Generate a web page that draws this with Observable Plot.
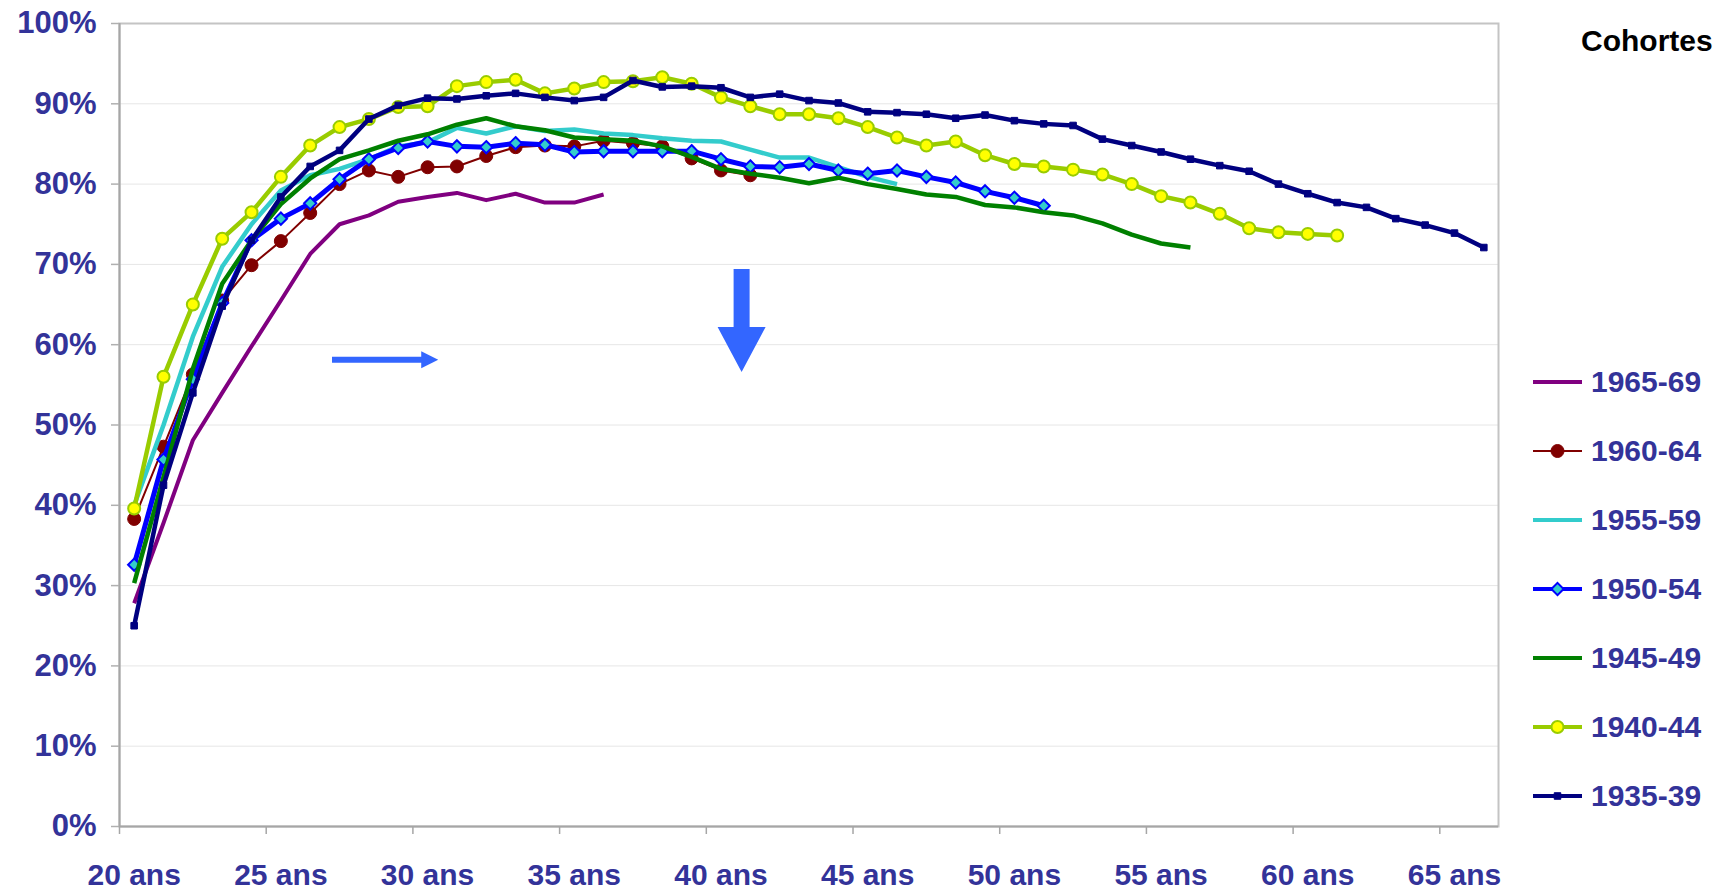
<!DOCTYPE html>
<html>
<head>
<meta charset="utf-8">
<script src="https://cdn.jsdelivr.net/npm/d3@7"></script>
<script src="https://cdn.jsdelivr.net/npm/@observablehq/plot@0.6"></script>
<style>
  html, body { margin: 0; padding: 0; background: #fff; overflow: hidden; }
  #wrap { position: relative; width: 1726px; height: 891px; font-family: "Liberation Sans", Arial, sans-serif; font-weight: bold; }
  #legend { position: absolute; left: 0; top: 0; width: 1726px; height: 891px; pointer-events: none; }
  .ltitle { position: absolute; color: #000; font-size: 30px; white-space: nowrap; }
  .litem { position: absolute; color: #333399; font-size: 30px; white-space: nowrap; display: flex; align-items: center; }
  .litem svg { margin-right: 9px; }
</style>
</head>
<body>
<div id="wrap"><div id="chart"></div><div id="legend"></div></div>
<script>
// ---------- DATA ----------
const cohorts = ["1965-69", "1960-64", "1955-59", "1950-54", "1945-49", "1940-44", "1935-39"];
const firstAge = 20; // first category: "20 ans"

const v1965_69 = [27.8, 37.8, 48.1, 54.0, 59.8, 65.5, 71.3, 75.0, 76.1, 77.8, 78.4, 78.9, 78.0, 78.8, 77.7, 77.7, 78.7];
const v1960_64 = [38.3, 47.3, 56.3, 65.5, 69.9, 72.9, 76.4, 80.0, 81.7, 80.9, 82.1, 82.2, 83.5, 84.6, 84.8, 84.7, 85.4, 85.1, 84.7, 83.2, 81.7, 81.1];
const v1955_59 = [40.0, 50.0, 61.0, 69.7, 75.0, 79.2, 81.1, 81.9, 83.1, 84.7, 85.2, 87.0, 86.3, 87.2, 86.6, 86.8, 86.3, 86.1, 85.7, 85.4, 85.3, 84.3, 83.3, 83.3, 82.1, 80.9, 80.0];
const v1950_54 = [32.6, 45.7, 55.7, 65.2, 73.0, 75.7, 77.6, 80.6, 83.1, 84.5, 85.3, 84.7, 84.6, 85.1, 84.9, 84.0, 84.1, 84.1, 84.1, 84.1, 83.1, 82.2, 82.1, 82.5, 81.7, 81.3, 81.7, 80.9, 80.2, 79.1, 78.3, 77.3];
const v1945_49 = [30.3, 43.5, 57.0, 67.6, 73.0, 77.5, 80.7, 83.1, 84.2, 85.4, 86.2, 87.4, 88.2, 87.2, 86.7, 85.8, 85.6, 85.4, 84.7, 83.4, 81.9, 81.3, 80.8, 80.1, 80.8, 80.0, 79.4, 78.7, 78.4, 77.4, 77.1, 76.5, 76.1, 75.1, 73.7, 72.6, 72.1];
const v1940_44 = [39.6, 56.0, 65.0, 73.2, 76.5, 80.9, 84.8, 87.1, 88.1, 89.6, 89.7, 92.2, 92.7, 93.0, 91.3, 91.9, 92.7, 92.8, 93.3, 92.5, 90.8, 89.7, 88.7, 88.7, 88.2, 87.1, 85.8, 84.8, 85.3, 83.6, 82.5, 82.2, 81.8, 81.2, 80.0, 78.5, 77.7, 76.3, 74.5, 74.0, 73.8, 73.6];
const v1935_39 = [25.0, 42.5, 54.0, 64.8, 73.0, 78.4, 82.2, 84.2, 88.1, 89.8, 90.7, 90.6, 91.0, 91.3, 90.8, 90.4, 90.8, 92.9, 92.1, 92.2, 92.0, 90.8, 91.2, 90.4, 90.1, 89.0, 88.9, 88.7, 88.2, 88.6, 87.9, 87.5, 87.3, 85.6, 84.8, 84.0, 83.1, 82.3, 81.6, 80.0, 78.8, 77.7, 77.1, 75.7, 74.9, 73.9, 72.1];

const seriesValues = [v1965_69, v1960_64, v1955_59, v1950_54, v1945_49, v1940_44, v1935_39];

const yTicks = [0, 10, 20, 30, 40, 50, 60, 70, 80, 90, 100];
const xTickAges = [20, 25, 30, 35, 40, 45, 50, 55, 60, 65];
const xTickLabels = ["20 ans", "25 ans", "30 ans", "35 ans", "40 ans", "45 ans", "50 ans", "55 ans", "60 ans", "65 ans"];
const xDomain = [20, 67];

// annotation arrows (data units: age, %)
const arrowFrom = [[27.26, 58.07], [41.22, 69.37]];
const arrowTo = [[30.88, 58.07], [41.22, 56.54]];

// ---------- STYLES ----------
const styles = [
  {stroke: "#800080", width: 4},
  {stroke: "#800000", width: 2, symbol: "circle", r: 6.5, fill: "#800000", mstroke: "#800000", msw: 1},
  {stroke: "#33CCCC", width: 4.5},
  {stroke: "#0000FF", width: 5, symbol: "diamond2", r: 5.5, fill: "#33CCCC", mstroke: "#0000FF", msw: 2},
  {stroke: "#008000", width: 4.5},
  {stroke: "#99CC00", width: 4.5, symbol: "circle", r: 6, fill: "#FFFF00", mstroke: "#99CC00", msw: 2},
  {stroke: "#000080", width: 4.5, symbol: "square", r: 3.7, fill: "#000080", mstroke: "#000080", msw: 1}
];
const arrowStyle = [{shaft: 6, headLen: 17, headW: 17}, {shaft: 16, headLen: 45, headW: 48}];
const arrowColor = "#3366FF";
const labelColor = "#333399";

// ---------- BUILD ----------
const rows = cohorts.map((c, k) => seriesValues[k].map((v, i) => ({cohort: c, age: firstAge + i + 0.5, value: v})));

const seriesMarks = [];
rows.forEach((data, k) => {
  const s = styles[k];
  seriesMarks.push(Plot.line(data, {x: "age", y: "value", stroke: s.stroke, strokeWidth: s.width, strokeLinejoin: "round", strokeLinecap: "butt"}));
  if (s.symbol) {
    seriesMarks.push(Plot.dot(data, {x: "age", y: "value", symbol: s.symbol, r: s.r, fill: s.fill, stroke: s.mstroke, strokeWidth: s.msw}));
  }
});

function arrowsMark(index, scales) {
  const g = d3.create("svg:g");
  arrowFrom.forEach((f, i) => {
    const st = arrowStyle[i];
    const x1 = scales.x(f[0]), y1 = scales.y(f[1]);
    const x2 = scales.x(arrowTo[i][0]), y2 = scales.y(arrowTo[i][1]);
    const L = Math.hypot(x2 - x1, y2 - y1);
    const ux = (x2 - x1) / L, uy = (y2 - y1) / L;
    const nx = -uy, ny = ux;
    const bx = x2 - ux * st.headLen, by = y2 - uy * st.headLen;
    const hs = st.shaft / 2, hw = st.headW / 2;
    const pts = [
      [x1 + nx * hs, y1 + ny * hs], [bx + nx * hs, by + ny * hs], [bx + nx * hw, by + ny * hw],
      [x2, y2],
      [bx - nx * hw, by - ny * hw], [bx - nx * hs, by - ny * hs], [x1 - nx * hs, y1 - ny * hs]
    ];
    g.append("path").attr("d", "M" + pts.map(p => p.join(",")).join("L") + "Z").attr("fill", arrowColor);
  });
  return g.node();
}

const chart = Plot.plot({
  width: 1726,
  height: 891,
  marginLeft: 119,
  marginRight: 228,
  marginTop: 23,
  marginBottom: 65,
  style: {fontFamily: "'Liberation Sans', Arial, sans-serif", fontWeight: "bold", background: "#fff", overflow: "visible"},
  x: {domain: xDomain},
  y: {domain: [0, 100]},
  marks: [
    Plot.ruleY(yTicks.slice(1, -1), {stroke: "#e6e6e6", strokeWidth: 1}),
    Plot.frame({stroke: "#c4c4c4", strokeWidth: 2}),
    Plot.ruleX([xDomain[0]], {stroke: "#a6a6a6", strokeWidth: 2}),
    Plot.ruleY([0], {stroke: "#a6a6a6", strokeWidth: 2}),
    Plot.axisY({ticks: yTicks, tickSize: 8, tickFormat: () => "", stroke: "#b0b0b0", strokeWidth: 1.5, label: null}),
    Plot.axisY({ticks: yTicks, tickSize: 0, tickPadding: 23, tickFormat: d => d + "%", fill: labelColor, fontSize: 31, fontWeight: "bold", label: null}),
    Plot.axisX({ticks: xTickAges, tickSize: 8, tickFormat: () => "", stroke: "#a6a6a6", strokeWidth: 1.5, label: null}),
    Plot.axisX({ticks: xTickAges.map(a => a + 0.5), tickSize: 0, tickPadding: 37, tickFormat: d => xTickLabels[xTickAges.indexOf(d - 0.5)], fill: labelColor, fontSize: 30, fontWeight: "bold", label: null}),
    ...seriesMarks,
    arrowsMark
  ]
});
document.getElementById("chart").appendChild(chart);

// ---------- LEGEND ----------
const legend = d3.select("#legend");
legend.append("div").attr("class", "ltitle").style("left", "1581px").style("top", "24px").text("Cohortes");
cohorts.forEach((c, k) => {
  const s = styles[k];
  const item = legend.append("div").attr("class", "litem")
    .style("left", "1533px").style("top", (382 + k * 69 - 18) + "px").style("height", "36px");
  const sv = item.append("svg").attr("width", 49).attr("height", 20);
  sv.append("line").attr("x1", 0).attr("x2", 49).attr("y1", 10).attr("y2", 10)
    .attr("stroke", s.stroke).attr("stroke-width", Math.min(s.width, 4));
  if (s.symbol) {
    const sym = {circle: d3.symbolCircle, diamond2: d3.symbolDiamond2, square: d3.symbolSquare}[s.symbol];
    sv.append("path").attr("transform", "translate(24.5,10)")
      .attr("d", d3.symbol(sym, Math.PI * s.r * s.r)())
      .attr("fill", s.fill).attr("stroke", s.mstroke).attr("stroke-width", s.msw);
  }
  item.append("span").text(c);
});
</script>
</body>
</html>
